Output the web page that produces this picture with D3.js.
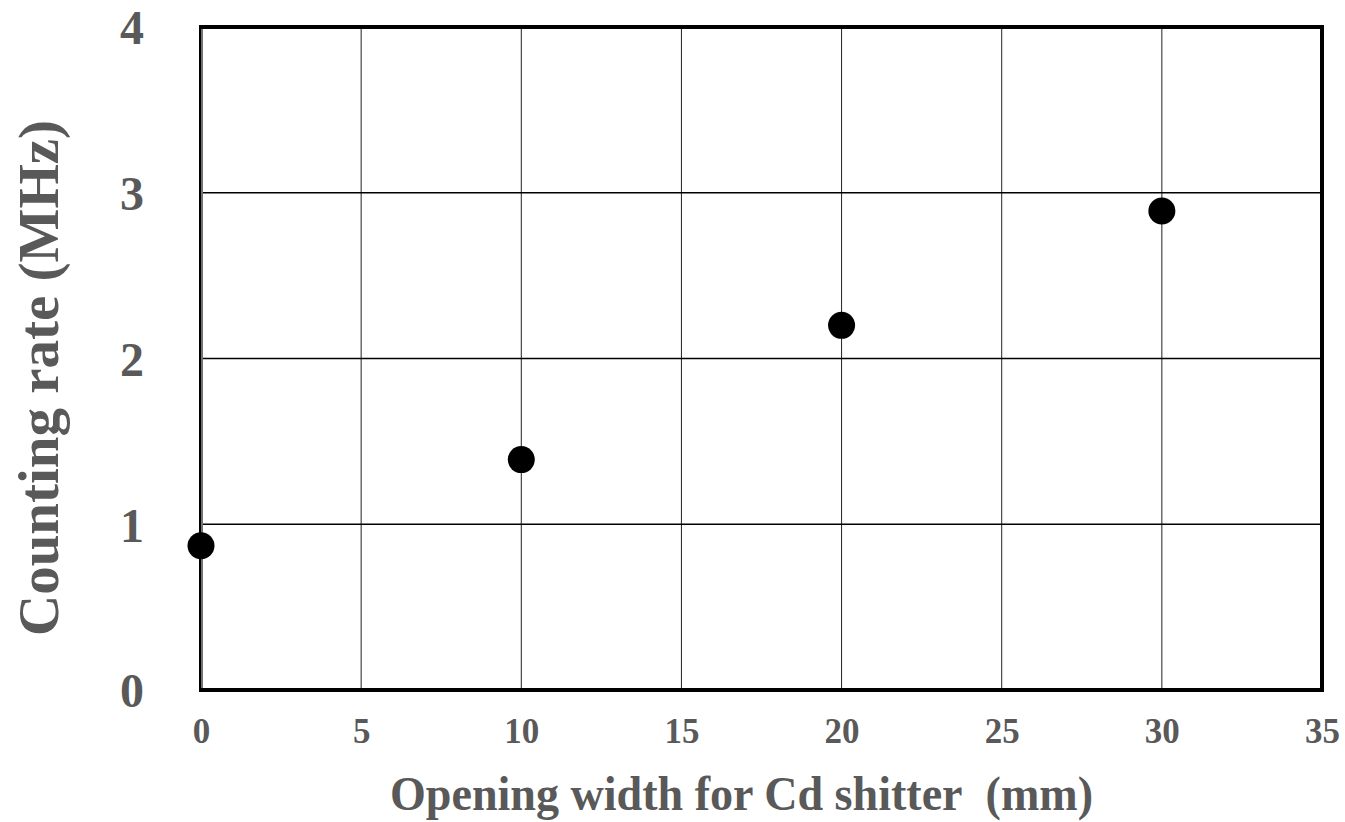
<!DOCTYPE html>
<html lang="en">
<head>
<meta charset="utf-8">
<title>Counting rate vs opening width</title>
<script src="https://cdn.jsdelivr.net/npm/d3@7"></script>
<style>
  html,body{margin:0;padding:0;background:#fff}
  text{font-family:"Liberation Serif","Times New Roman",serif;font-weight:bold;fill:#595959}
</style>
</head>
<body>
<div id="chart"></div>
<script>
// data
var widths=[0,10,20,30];            // opening width (mm)
var rates=[0.87,1.39,2.2,2.89];     // counting rate (MHz)
var xTicks=[0,5,10,15,20,25,30,35];
var yTicks=[0,1,2,3,4];

var W=1345,H=822;
var margin={top:27,right:23,bottom:132,left:201};
var width=W-margin.left-margin.right;
var height=H-margin.top-margin.bottom;

var svg=d3.select("#chart").append("svg")
    .attr("width",W).attr("height",H);
var g=svg.append("g")
    .attr("transform","translate("+margin.left+","+margin.top+")");

var x=d3.scaleLinear().domain([0,35]).range([0,width]);
var y=d3.scaleLinear().domain([0,4]).range([height,0]);

// grid
g.selectAll(".vgrid").data(xTicks.slice(1,-1)).enter().append("line")
    .attr("x1",d=>x(d)).attr("x2",d=>x(d))
    .attr("y1",0).attr("y2",height)
    .attr("stroke","#222").attr("stroke-width",1);
g.selectAll(".hgrid").data(yTicks.slice(1,-1)).enter().append("line")
    .attr("x1",0).attr("x2",width)
    .attr("y1",d=>y(d)).attr("y2",d=>y(d))
    .attr("stroke","#000").attr("stroke-width",1.6);

// frame
g.append("rect")
    .attr("x",0).attr("y",0).attr("width",width).attr("height",height)
    .attr("fill","none").attr("stroke","#000").attr("stroke-width",4);
g.append("line")
    .attr("x1",1).attr("x2",1).attr("y1",2).attr("y2",height-2)
    .attr("stroke","#999").attr("stroke-width",1.5);

// tick labels
var xAxis=d3.axisBottom(x).tickValues(xTicks).tickSize(0).tickPadding(0).tickFormat(d3.format("d"));
var xa=g.append("g").attr("transform","translate(0,"+height+")").call(xAxis);
xa.select(".domain").remove();
xa.selectAll("text").attr("dy",null).attr("y",53)
    .style("font-size","35px").attr("fill","#595959");

var yAxis=d3.axisLeft(y).tickValues(yTicks).tickSize(0).tickPadding(0).tickFormat(d3.format("d"));
var ya=g.append("g").call(yAxis);
ya.select(".domain").remove();
ya.selectAll("text").attr("x",-69).attr("text-anchor","middle").attr("dy","0.35em")
    .style("font-size","48px").attr("fill","#595959");

// titles
svg.append("text")
    .attr("x",390).attr("y",810)
    .attr("textLength",703).attr("lengthAdjust","spacingAndGlyphs")
    .style("font-size","48px")
    .text("Opening width for Cd shitter\u00a0\u00a0(mm)");
svg.append("text")
    .attr("transform","translate(58,636) rotate(-90)")
    .attr("textLength",516).attr("lengthAdjust","spacingAndGlyphs")
    .style("font-size","58px")
    .text("Counting rate (MHz)");

// points
g.selectAll(".pt").data(widths).enter().append("circle")
    .attr("cx",d=>x(d))
    .attr("cy",(d,i)=>y(rates[i]))
    .attr("r",13.5)
    .attr("fill","#000");
</script>
</body>
</html>
